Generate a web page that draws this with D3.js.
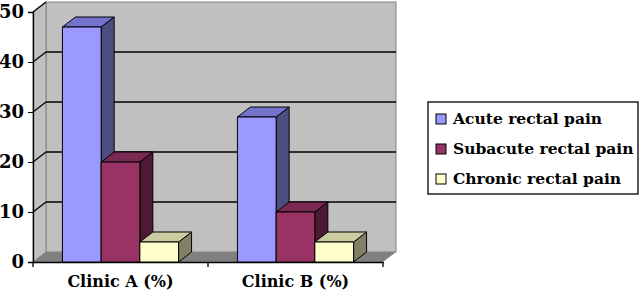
<!DOCTYPE html>
<html>
<head>
<meta charset="utf-8">
<script src="https://cdn.jsdelivr.net/npm/d3@7"></script>
<style>
  body { margin: 0; background: #fff; }
  text { font-family: "DejaVu Serif", serif; font-weight: bold; fill: #000; }
</style>
</head>
<body>
<div id="chart"></div>
<script>
const categories = ["Clinic A (%)", "Clinic B (%)"];
const series = ["Acute rectal pain", "Subacute rectal pain", "Chronic rectal pain"];
const acute = [47, 29];
const subacute = [20, 10];
const chronic = [4, 4];
const yTicks = [0, 10, 20, 30, 40, 50];

const values = [acute, subacute, chronic];
const colors = [
  { front: "#9999ff", top: "#7373cc", side: "#4d4d80" },
  { front: "#993366", top: "#7a2952", side: "#4d1a33" },
  { front: "#ffffcc", top: "#cccca3", side: "#808066" }
];

const W = 640, H = 296;
const dx = 13, dy = -10; // 3D depth offset

const svg = d3.select("#chart").append("svg")
  .attr("width", W).attr("height", H);

const x0 = d3.scaleBand().domain(categories).range([33, 383]);
const x1 = d3.scaleBand().domain(series).range([0, x0.bandwidth()]).paddingOuter(0.76);
const y = d3.scaleLinear().domain([0, 50]).range([262, 12]);

// back wall
svg.append("rect")
  .attr("x", 33 + dx).attr("y", y(50) + dy)
  .attr("width", 350).attr("height", y(0) - y(50))
  .attr("fill", "#c0c0c0").attr("stroke", "#808080");

// left wall
svg.append("polygon")
  .attr("points", [[33, y(0)], [33, y(50)], [33 + dx, y(50) + dy], [33 + dx, y(0) + dy]].join(" "))
  .attr("fill", "#c0c0c0").attr("stroke", "#808080");

// floor
svg.append("polygon")
  .attr("points", [[33, y(0)], [383, y(0)], [383 + dx, y(0) + dy], [33 + dx, y(0) + dy]].join(" "))
  .attr("fill", "#808080");

// gridlines
const grid = svg.append("g").attr("stroke", "#000").attr("stroke-width", 1.3);
yTicks.filter(t => t > 0 && t < 50).forEach(t => {
  grid.append("line").attr("x1", 33).attr("y1", y(t)).attr("x2", 33 + dx).attr("y2", y(t) + dy);
  grid.append("line").attr("x1", 33 + dx).attr("y1", y(t) + dy).attr("x2", 383 + dx).attr("y2", y(t) + dy);
});
grid.append("line").attr("x1", 33).attr("y1", y(50)).attr("x2", 33 + dx).attr("y2", y(50) + dy);

// axes
const yAxis = svg.append("g").attr("transform", "translate(33,0)")
  .call(d3.axisLeft(y).tickValues(yTicks).tickSize(5).tickPadding(4));
yAxis.select(".domain").attr("stroke-width", 1.3);
yAxis.selectAll("text").style("font-size", "18px");

const xAxis = svg.append("g").attr("transform", `translate(0,${y(0)})`)
  .call(d3.axisBottom(x0).tickSize(0).tickPadding(14));
xAxis.select(".domain").attr("stroke-width", 1.3);
xAxis.selectAll("text").style("font-size", "16px");
xAxis.selectAll(".catTick").data([0, 1, 2]).enter().append("line")
  .attr("x1", i => 33 + i * x0.bandwidth()).attr("x2", i => 33 + i * x0.bandwidth())
  .attr("y1", 0).attr("y2", 5).attr("stroke", "#000").attr("stroke-width", 1.3);

// 3D bars
categories.forEach((c, ci) => {
  series.forEach((s, si) => {
    const v = values[si][ci];
    const bx = x0(c) + x1(s), bw = x1.bandwidth();
    const yt = y(v), yb = y(0);
    const g = svg.append("g").attr("stroke", "#000").attr("stroke-width", 1).attr("stroke-linejoin", "round");
    g.append("polygon")
      .attr("points", [[bx + bw, yt], [bx + bw + dx, yt + dy], [bx + bw + dx, yb + dy], [bx + bw, yb]].join(" "))
      .attr("fill", colors[si].side);
    g.append("polygon")
      .attr("points", [[bx, yt], [bx + dx, yt + dy], [bx + bw + dx, yt + dy], [bx + bw, yt]].join(" "))
      .attr("fill", colors[si].top);
    g.append("rect")
      .attr("x", bx).attr("y", yt).attr("width", bw).attr("height", yb - yt)
      .attr("fill", colors[si].front);
  });
});

// legend
const legend = svg.append("g").attr("transform", "translate(428,102)");
legend.append("rect").attr("width", 210).attr("height", 92)
  .attr("fill", "#fff").attr("stroke", "#000").attr("stroke-width", 1.3);
series.forEach((s, i) => {
  const row = legend.append("g").attr("transform", `translate(8,${17 + i * 30})`);
  row.append("rect").attr("x", 0).attr("y", -5).attr("width", 10).attr("height", 10)
    .attr("fill", colors[i].front).attr("stroke", "#000");
  row.append("text").attr("x", 17).attr("dy", "0.35em").style("font-size", "15.5px").text(s);
});
</script>
</body>
</html>
